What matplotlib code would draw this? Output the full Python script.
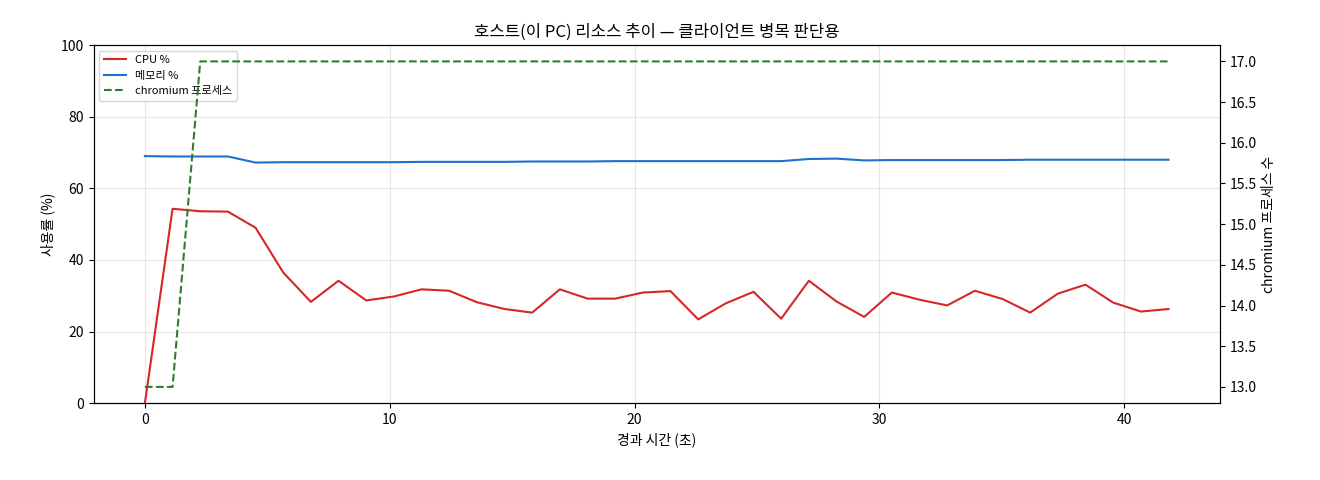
import numpy as np
import matplotlib
matplotlib.use("Agg")
import matplotlib.pyplot as plt

plt.rcParams["font.family"] = ["Noto Sans CJK KR", "DejaVu Sans"]

elapsed = np.round(np.arange(38) * 1.13, 2)
cpu = [0, 54.3, 53.6, 53.5, 49.0, 36.5, 28.3, 34.2, 28.7, 29.8,
       31.8, 31.4, 28.2, 26.3, 25.3, 31.8, 29.2, 29.2, 30.9, 31.3,
       23.4, 27.9, 31.1, 23.6, 34.2, 28.4, 24.1, 30.9, 28.9, 27.3,
       31.4, 29.1, 25.3, 30.6, 33.1, 28.1, 25.6, 26.3]
mem = [69.0, 68.9, 68.9, 68.9, 67.2, 67.3, 67.3, 67.3, 67.3, 67.3,
       67.4, 67.4, 67.4, 67.4, 67.5, 67.5, 67.5, 67.6, 67.6, 67.6,
       67.6, 67.6, 67.6, 67.6, 68.2, 68.3, 67.8, 67.9, 67.9, 67.9,
       67.9, 67.9, 68.0, 68.0, 68.0, 68.0, 68.0, 68.0]
chromium = [13, 13] + [17] * 36

fig, ax = plt.subplots(figsize=(13.2, 4.8), dpi=100)
l1, = ax.plot(elapsed, cpu, color="#d62728", lw=1.5, label="CPU %")
l2, = ax.plot(elapsed, mem, color="#1f6fd0", lw=1.5, label="메모리 %")
ax.set_ylim(0, 100)
ax.set_xlabel("경과 시간 (초)")
ax.set_ylabel("사용률 (%)")
ax.grid(alpha=0.3)

ax2 = ax.twinx()
l3, = ax2.plot(elapsed, chromium, color="#2e7d32", lw=1.5, ls="--",
               label="chromium 프로세스")
ax2.set_ylabel("chromium 프로세스 수")

ax.legend(handles=[l1, l2, l3], loc="upper left", fontsize=8)
ax.set_title("호스트(이 PC) 리소스 추이 — 클라이언트 병목 판단용")
fig.subplots_adjust(left=0.071, right=0.924, top=0.906, bottom=0.16)
fig.savefig("out.png")
